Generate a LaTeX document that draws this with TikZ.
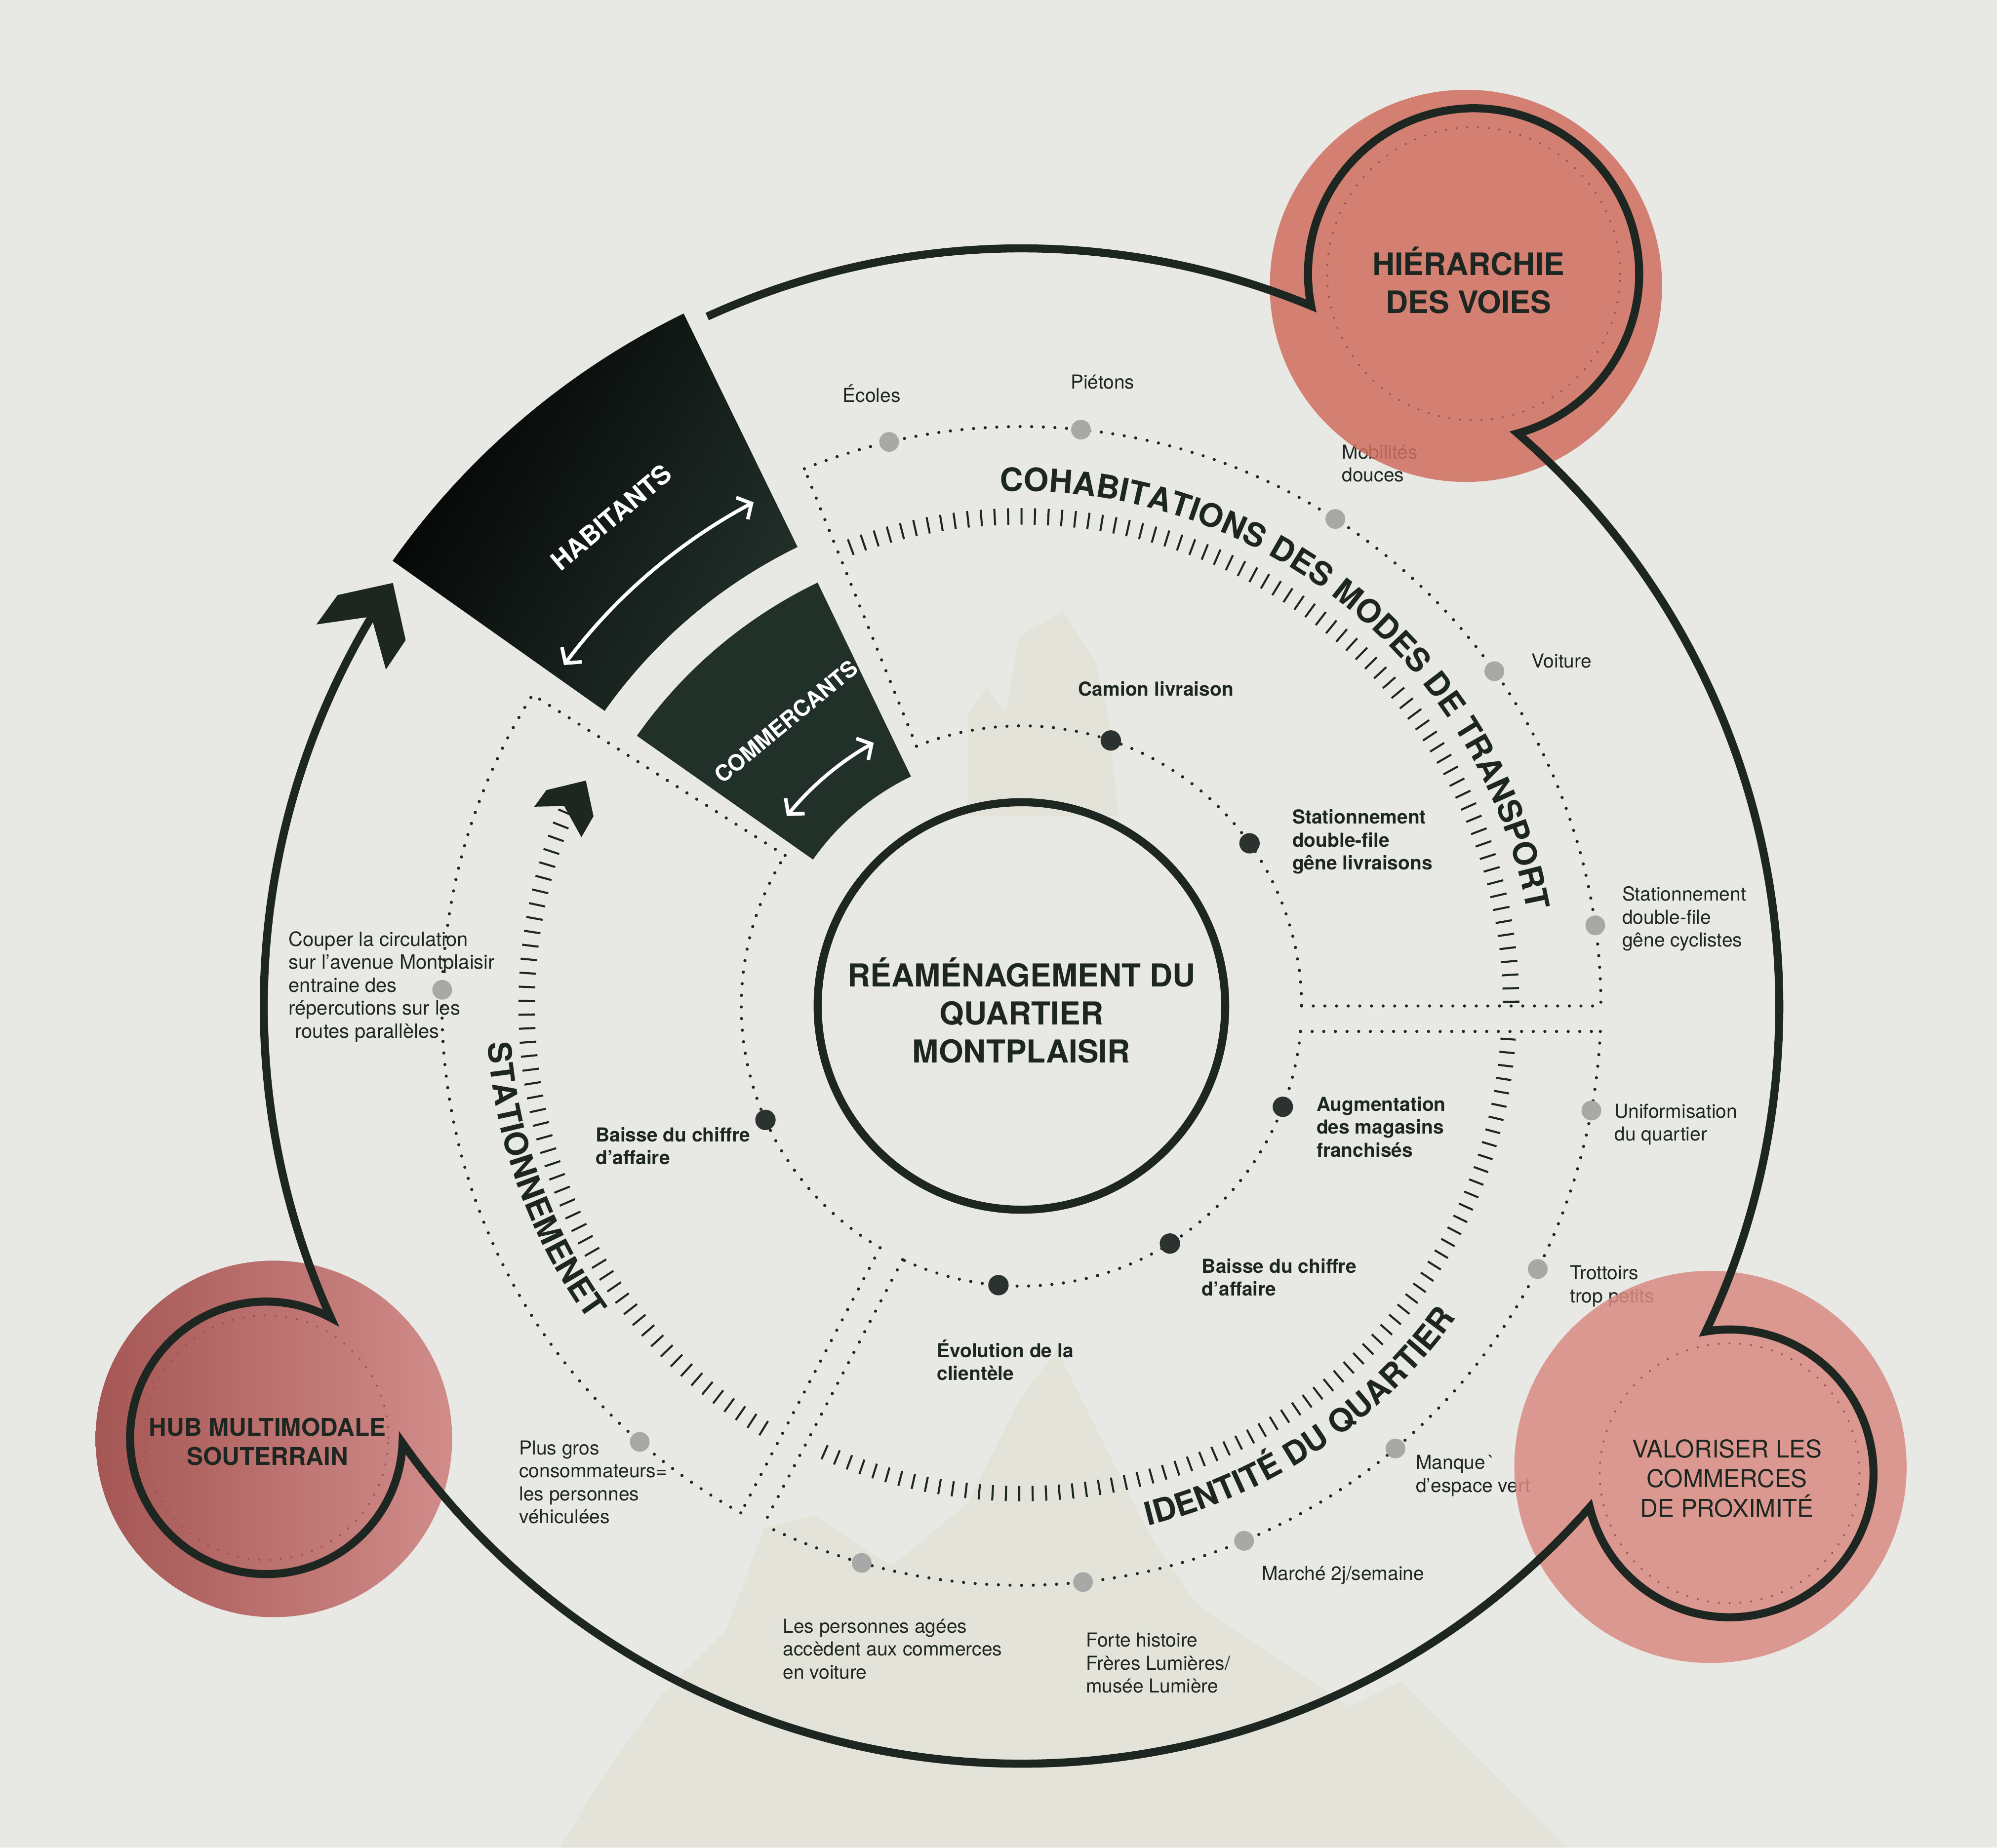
\documentclass[tikz,border=0pt]{standalone}
\usepackage{fontspec}
\setmainfont{TeX Gyre Heros}
\usepackage{tikz}
\usetikzlibrary{arrows.meta, decorations.text}
\definecolor{figInk}{RGB}{30,38,34}
\definecolor{figPaper}{RGB}{232,233,229}
\definecolor{figBeige}{RGB}{228,227,217}
\definecolor{figDot}{RGB}{44,50,47}
\definecolor{figGrey}{RGB}{168,169,166}
\definecolor{figHab}{RGB}{12,20,15}
\definecolor{figCom}{RGB}{34,48,42}
\definecolor{figRedA}{RGB}{208,110,96}
\definecolor{figRedB}{RGB}{217,138,131}
\definecolor{figRedC}{RGB}{194,102,99}
\definecolor{figRedDot}{RGB}{160,80,76}
\newcommand{\lblfont}{\fontsize{4.3}{5.12}\selectfont}
\newcommand{\arcfont}{\fontsize{7.2}{8}\selectfont\bfseries}

\begin{document}
\begin{tikzpicture}[
  lblin/.style={anchor=west, align=left, inner sep=0pt, font=\lblfont\bfseries, text=figInk},
  lblout/.style={anchor=west, align=left, inner sep=0pt, font=\lblfont, text=figInk},
  dotin/.style={circle, fill=figDot, inner sep=0pt, minimum size=1.6mm},
  dotout/.style={circle, fill=figGrey, inner sep=0pt, minimum size=1.55mm},
  ring/.style={figInk, line width=0.7pt, dash pattern=on 0pt off 2.6pt, line cap=round},
  reddots/.style={figRedDot, line width=0.45pt, dash pattern=on 0pt off 2.4pt, line cap=round},
  tickmark/.style={figInk, line width=0.45pt},
  loopline/.style={figInk, line width=1.8pt, line join=miter},
  goal/.style={align=center, inner sep=0pt, text=figInk},
  whitearrow/.style={white, line width=0.8pt, {Straight Barb[length=2.4pt,width=5.5pt]}-{Straight Barb[length=2.4pt,width=5.5pt]}}
]
% ---- paper ----
\fill[figPaper] (-8.02,-6.61) rectangle (7.66,7.90);
\useasboundingbox (-8.02,-6.61) rectangle (7.66,7.90);
% faint landscape behind the wheel
\fill[figBeige] (-3.62,-6.61) -- (-3.32,-6.10) -- (-2.82,-5.40) -- (-2.32,-4.90) -- (-2.02,-4.10)
  -- (-1.62,-4.00) -- (-1.02,-4.40) -- (-0.42,-3.90) -- (-0.02,-3.10) -- (0.28,-2.70)
  -- (0.58,-3.30) -- (0.98,-4.10) -- (1.38,-4.70) -- (1.98,-5.10) -- (2.58,-5.50)
  -- (2.98,-5.30) -- (3.58,-5.90) -- (4.28,-6.61) -- cycle;
\fill[figBeige] (-0.42,1.49) -- (-0.42,2.30) -- (-0.27,2.50) -- (-0.12,2.30) -- (-0.02,2.90)
  -- (0.33,3.10) -- (0.58,2.70) -- (0.68,2.30) -- (0.76,1.49) -- cycle;

% ---- labels lying under the red discs ----
\node[lblout] (mobil) at (2.51,4.26) {Mobilités\\douces};
\node[lblout] (trott) at (4.30,-2.20) {Trottoirs\\trop petits};
\node[lblout] (manque) at (3.09,-3.69) {Manque\,\textasciigrave\\d’espace vert};

% ---- red discs of the three levers ----
\fill[figRedA, fill opacity=0.85] (3.49,5.655) circle (1.54);
\fill[figRedB, fill opacity=0.85] (5.41,-3.62) circle (1.54);
\shade[left color=figRedC!85!black, right color=figRedC!75!white] (-5.87,-3.40) circle (1.40);
% faint dotted circles, concentric with the swirls
\draw[reddots] (3.55,5.75) circle (1.15);
\draw[reddots] (5.56,-3.67) circle (1.02);
\draw[reddots] (-5.93,-3.39) circle (0.96);

% ---- dotted rings, cut in sectors ----
% inner ring r=2.2, outer ring r=4.55
\draw[ring] (112:2.2) arc[start angle=112, end angle=0, radius=2.2];
\draw[ring] (112:4.55) arc[start angle=112, end angle=0, radius=4.55];
\draw[ring] (-5.22:2.2) arc[start angle=-5.22, end angle=-115.1, radius=2.2];
\draw[ring] (-2.52:4.55) arc[start angle=-2.52, end angle=-116.44, radius=4.55];
\draw[ring] (-120.3:2.2) arc[start angle=-120.3, end angle=-212.5, radius=2.2];
\draw[ring] (-118.96:4.55) arc[start angle=-118.96, end angle=-212.5, radius=4.55];
% sector borders
\draw[ring] (112:2.2) -- (112:4.55);
\draw[ring] (147.5:2.2) -- (147.5:4.55);
\draw[ring] (2.2,0) -- (4.55,0);
\draw[ring] (2.191,-0.2) -- (4.546,-0.2);
\draw[ring] (-0.933,-1.992) -- (-2.026,-4.074);
\draw[ring] (-1.110,-1.899) -- (-2.203,-3.981);

% ---- tick arcs ----
\foreach \a in {0.5,2.07,...,110.6}
  \draw[tickmark] (\a:3.78) -- (\a:3.91);
\foreach \a in {-3.9,-5.47,...,-115.3}
  \draw[tickmark] (\a:3.77) -- (\a:3.89);
\foreach \a in {157,158.6,...,239.9}
  \draw[tickmark] (\a:3.82) -- (\a:3.95);
% chevron closing the parking arc
\fill[figInk] (-3.42,1.77) -- (-3.36,1.49) -- (-3.455,1.325) -- (-3.59,1.57)
  -- (-3.825,1.565) -- (-3.73,1.695) -- cycle;

% ---- arc titles ----
\path[decorate, decoration={text along path, text align=center,
  text={|\arcfont\color{figInk}|COHABITATIONS DES MODES DE TRANSPORT}}]
  (111:4.04) arc[start angle=111, end angle=-8, radius=4.04];
\path[decorate, decoration={text along path, text align=center,
  text={|\arcfont\color{figInk}|IDENTITÉ DU QUARTIER}}]
  (-96:4.20) arc[start angle=-96, end angle=-16, radius=4.20];
\path[decorate, decoration={text along path, text align=center,
  text={|\arcfont\color{figInk}|STATIONNEMENET}}]
  (170:4.20) arc[start angle=170, end angle=230, radius=4.20];

% ---- actors ----
\shade[left color=black!85!figHab, right color=figCom, shading angle=60]
  (116:4.01) arc[start angle=116, end angle=144.7, radius=4.01]
  -- (144.7:6.05) arc[start angle=144.7, end angle=116, radius=6.05] -- cycle;
\fill[figCom] (115.7:2.00) arc[start angle=115.7, end angle=144.9, radius=2.00]
  -- (144.9:3.69) arc[start angle=144.9, end angle=115.7, radius=3.69] -- cycle;
\draw[whitearrow] (118:4.48) arc[start angle=118, end angle=143.3, radius=4.48];
\draw[whitearrow] (119.3:2.37) arc[start angle=119.3, end angle=141, radius=2.37];
\node[rotate=40, text=white, inner sep=0pt, font=\fontsize{5.8}{7}\selectfont\bfseries] (hab) at (130:5.01) {HABITANTS};
\node[rotate=39.6, text=white, inner sep=0pt, font=\fontsize{5}{6}\selectfont\bfseries] (com) at (129.6:2.90) {COMMERCANTS};

% ---- centre ----
\draw[figInk, line width=1.8pt] (0,0) circle (1.60);
\node[goal, font=\fontsize{7.05}{8.45}\selectfont\bfseries] (centre) at (0,-0.035)
  {RÉAMÉNAGEMENT DU\\QUARTIER\\MONTPLAISIR};

% ---- big loop through the three levers ----
\draw[loopline] (114.5:5.95) arc[start angle=114.5, end angle=67.52, radius=5.95]
  arc[start angle=191.18, end angle=-74.56, radius=1.30]
  arc[start angle=49.10, end angle=-25.44, radius=5.95]
  arc[start angle=99.51, end angle=-166.37, radius=1.13]
  arc[start angle=-41.42, end angle=-144.77, radius=5.95]
  arc[start angle=-2.22, end angle=-298.26, radius=1.07]
  arc[start angle=-155.71, end angle=-210.94, radius=5.95];
\fill[figInk] (-4.935,3.322) -- (-4.835,2.873) -- (-4.990,2.642) -- (-5.104,3.058)
  -- (-5.536,2.996) -- (-5.369,3.227) -- cycle;

\node[goal, font=\fontsize{6.9}{8.5}\selectfont\bfseries] (hier) at (3.51,5.70) {HIÉRARCHIE\\DES VOIES};
\node[goal, font=\fontsize{5.45}{6.65}\selectfont] (valo) at (5.54,-3.71) {VALORISER LES\\COMMERCES\\DE PROXIMITÉ};
\node[goal, font=\fontsize{5.45}{6.5}\selectfont\bfseries] (hub) at (-5.92,-3.42) {HUB MULTIMODALE\\SOUTERRAIN};

% ---- dots on the rings ----
\node[dotin] (dcam) at (71.4:2.2) {};
\node[dotin] (dstl) at (35.5:2.2) {};
\node[dotin] (daug) at (-21.1:2.2) {};
\node[dotin] (dbar) at (-58:2.2) {};
\node[dotin] (devo) at (-94.7:2.2) {};
\node[dotin] (dbal) at (204:2.2) {};
\node[dotout] (deco) at (103.2:4.55) {};
\node[dotout] (dpie) at (84.1:4.55) {};
\node[dotout] (dmob) at (57.2:4.55) {};
\node[dotout] (dvoi) at (35.3:4.55) {};
\node[dotout] (dstc) at (8:4.55) {};
\node[dotout] (duni) at (-10.4:4.55) {};
\node[dotout] (dtro) at (-27:4.55) {};
\node[dotout] (dman) at (-49.8:4.55) {};
\node[dotout] (dmar) at (-67.4:4.55) {};
\node[dotout] (dfor) at (-83.9:4.55) {};
\node[dotout] (dper) at (-106:4.55) {};
\node[dotout] (dplu) at (-131.2:4.55) {};
\node[dotout] (dcou) at (178.4:4.55) {};

% ---- labels ----
\node[lblin] (cam) at (0.44,2.49) {Camion livraison};
\node[lblin] (statl) at (2.12,1.29) {Stationnement\\double-file\\gêne livraisons};
\node[lblin] (aug) at (2.31,-0.95) {Augmentation\\des magasins\\franchisés};
\node[lblin] (baisser) at (1.41,-2.13) {Baisse du chiffre\\d’affaire};
\node[lblin] (evol) at (-0.67,-2.78) {Évolution de la\\clientèle};
\node[lblin] (baissel) at (-3.35,-1.10) {Baisse du chiffre\\d’affaire};
\node[lblout] (ecoles) at (-1.41,4.81) {Écoles};
\node[lblout] (pietons) at (0.38,4.90) {Piétons};
\node[lblout] (voiture) at (4.00,2.71) {Voiture};
\node[lblout] (statc) at (4.71,0.685) {Stationnement\\double-file\\gêne cyclistes};
\node[lblout] (unif) at (4.65,-0.93) {Uniformisation\\du quartier};
\node[lblout] (marche) at (1.88,-4.47) {Marché 2j/semaine};
\node[lblout] (forte) at (0.50,-5.16) {Forte histoire\\Frères Lumières/\\musée Lumière};
\node[lblout] (pers) at (-1.88,-5.05) {Les personnes agées\\accèdent aux commerces\\en voiture};
\node[lblout] (plus) at (-3.95,-3.74) {Plus gros\\consommateurs=\\les personnes\\véhiculées};
\node[lblout, font=\fontsize{4.4}{5.12}\selectfont] (couper) at (-5.76,0.15)
  {Couper la circulation\\sur l’avenue Montplaisir\\entraine des\\répercutions sur les\\\hspace{0.05cm}routes parallèles};
\end{tikzpicture}
\end{document}
